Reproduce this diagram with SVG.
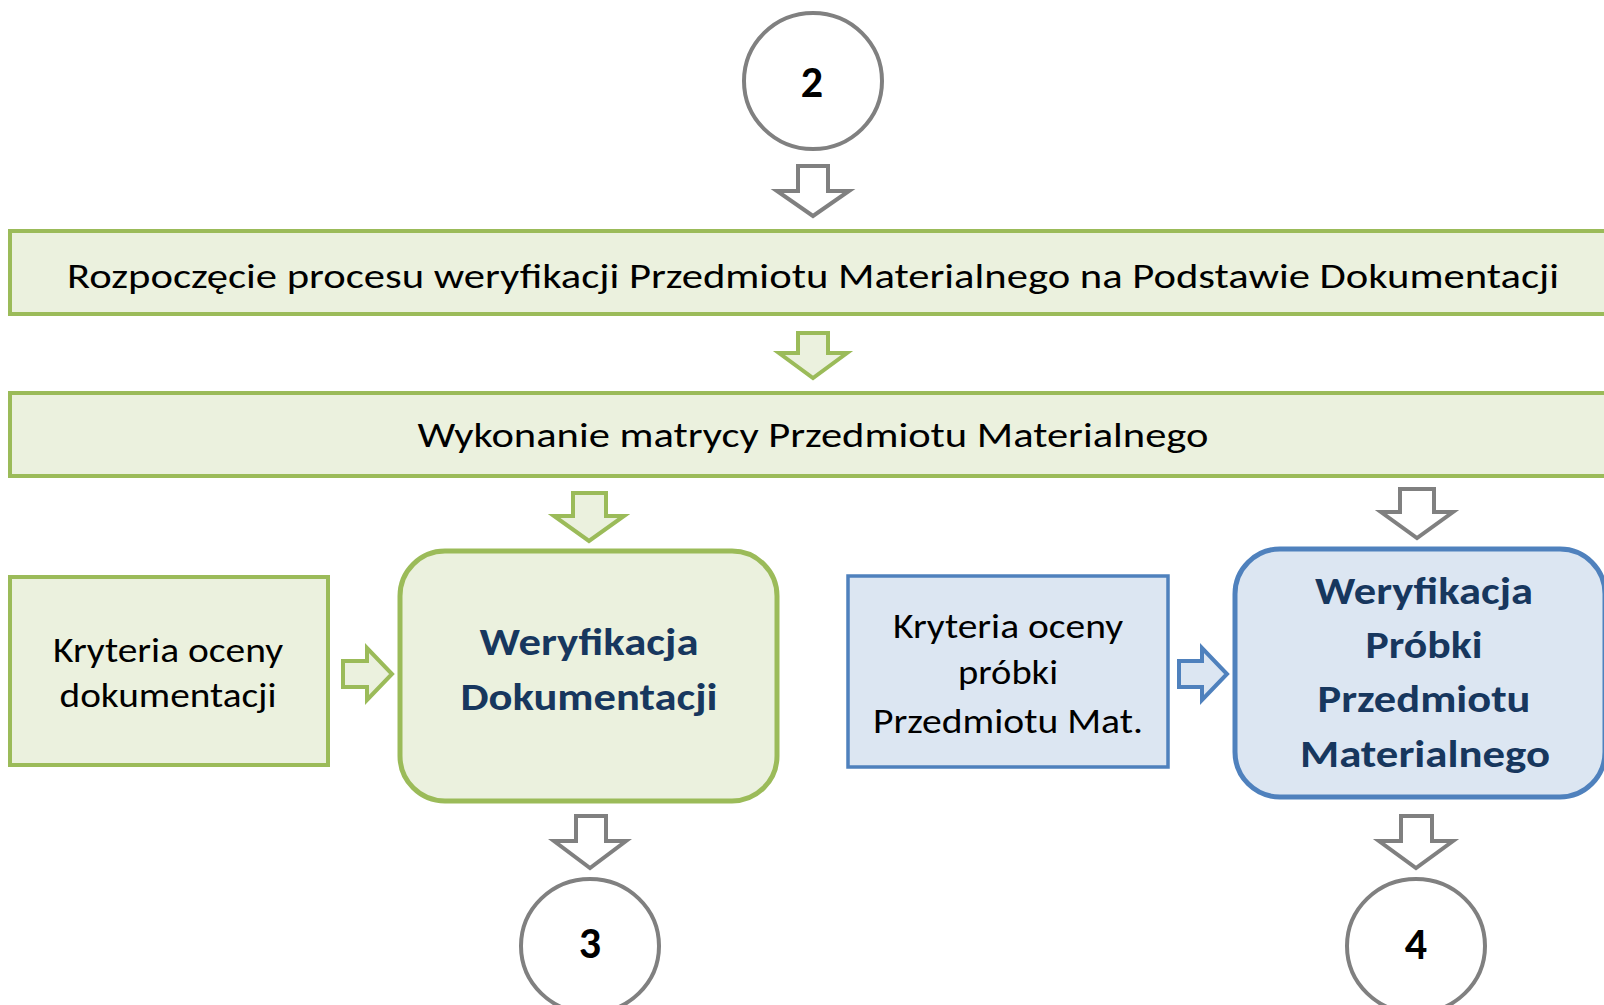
<svg xmlns="http://www.w3.org/2000/svg" width="1604" height="1005" viewBox="0 0 1604 1005">
<style>
.gbox{fill:#EBF1DE;stroke:#9BBB59;stroke-width:4}
.gbox5{fill:#EBF1DE;stroke:#9BBB59;stroke-width:5}
.bbox{fill:#DCE6F2;stroke:#4F81BD;stroke-width:3.5}
.bbox5{fill:#DCE6F2;stroke:#4F81BD;stroke-width:5}
.circ{fill:#FFFFFF;stroke:#808080;stroke-width:4}
.garr{fill:#FFFFFF;stroke:#808080;stroke-width:4;stroke-linejoin:miter}
.grarr{fill:#EBF1DE;stroke:#9BBB59;stroke-width:4}
.blarr{fill:#DCE6F2;stroke:#4F81BD;stroke-width:4}
.t{font-family:Carlito,Lato,"Open Sans",sans-serif;font-size:34px;fill:#000000;text-anchor:middle}
.tb{font-family:Carlito,Lato,"Open Sans",sans-serif;font-size:39px;font-weight:bold;fill:#17375E;text-anchor:middle}
.num{font-family:Carlito,Lato,"Open Sans",sans-serif;font-size:44px;font-weight:bold;fill:#000000;text-anchor:middle}
</style>
<rect width="1604" height="1005" fill="#FFFFFF"/>
<g id="connectors">
<path class="garr" d="M798,166 H828 V191 H849 L813,216 L777,191 H798 Z"/>
<path class="grarr" d="M798,333 H828 V353 H847 L813,378 L779,353 H798 Z"/>
<path class="grarr" d="M573,493 H606 V516 H624 L589,541 L554,516 H573 Z"/>
<path class="garr" d="M1400,489 H1434 V512 H1453 L1417,538 L1381,512 H1400 Z"/>
<path class="garr" d="M576,816 H606 V841 H626 L590,868 L554,841 H576 Z"/>
<path class="garr" d="M1401,816 H1432 V841 H1453 L1416,868 L1379,841 H1401 Z"/>
<path class="grarr" d="M343,661 H367 V648 L392,674 L367,700 V687 H343 Z"/>
<path class="blarr" d="M1179,661 H1202 V648 L1227,674 L1202,700 V687 H1179 Z"/>
</g>
<g id="node-2">
<ellipse class="circ" cx="813" cy="81" rx="69" ry="68"/>
<text class="num" x="812" y="97">2</text>
</g>
<g id="node-start">
<rect class="gbox" x="10" y="231" width="1606" height="83"/>
<text class="t" x="813" y="288" textLength="1492" lengthAdjust="spacingAndGlyphs">Rozpoczęcie procesu weryfikacji Przedmiotu Materialnego na Podstawie Dokumentacji</text>
</g>
<g id="node-matrix">
<rect class="gbox" x="10" y="393" width="1606" height="83"/>
<text class="t" x="813" y="447" textLength="791" lengthAdjust="spacingAndGlyphs">Wykonanie matrycy Przedmiotu Materialnego</text>
</g>
<g id="node-kryteria-dok">
<rect class="gbox" x="10" y="577" width="318" height="188"/>
<text class="t" x="168" y="662" textLength="230" lengthAdjust="spacingAndGlyphs">Kryteria oceny</text>
<text class="t" x="168" y="707" textLength="217" lengthAdjust="spacingAndGlyphs">dokumentacji</text>
</g>
<g id="node-weryfikacja-dok">
<rect class="gbox5" x="400" y="551" width="377" height="250" rx="45" ry="45"/>
<text class="tb" x="589" y="655" textLength="219" lengthAdjust="spacingAndGlyphs">Weryfikacja</text>
<text class="tb" x="589" y="710" textLength="257" lengthAdjust="spacingAndGlyphs">Dokumentacji</text>
</g>
<g id="node-kryteria-probki">
<rect class="bbox" x="848" y="576" width="320" height="191"/>
<text class="t" x="1008" y="638" textLength="230" lengthAdjust="spacingAndGlyphs">Kryteria oceny</text>
<text class="t" x="1008" y="684" textLength="100" lengthAdjust="spacingAndGlyphs">próbki</text>
<text class="t" x="1008" y="733" textLength="270" lengthAdjust="spacingAndGlyphs">Przedmiotu Mat.</text>
</g>
<g id="node-weryfikacja-probki">
<rect class="bbox5" x="1235" y="549" width="370" height="248" rx="45" ry="45"/>
<text class="tb" x="1424" y="604" textLength="218" lengthAdjust="spacingAndGlyphs">Weryfikacja</text>
<text class="tb" x="1424" y="658" textLength="117" lengthAdjust="spacingAndGlyphs">Próbki</text>
<text class="tb" x="1424" y="712" textLength="213" lengthAdjust="spacingAndGlyphs">Przedmiotu</text>
<text class="tb" x="1425" y="767" textLength="250" lengthAdjust="spacingAndGlyphs">Materialnego</text>
</g>
<g id="node-3">
<ellipse class="circ" cx="590" cy="946" rx="69" ry="67"/>
<text class="num" x="590" y="958">3</text>
</g>
<g id="node-4">
<ellipse class="circ" cx="1416" cy="946" rx="69" ry="67"/>
<text class="num" x="1416" y="959">4</text>
</g>
</svg>
